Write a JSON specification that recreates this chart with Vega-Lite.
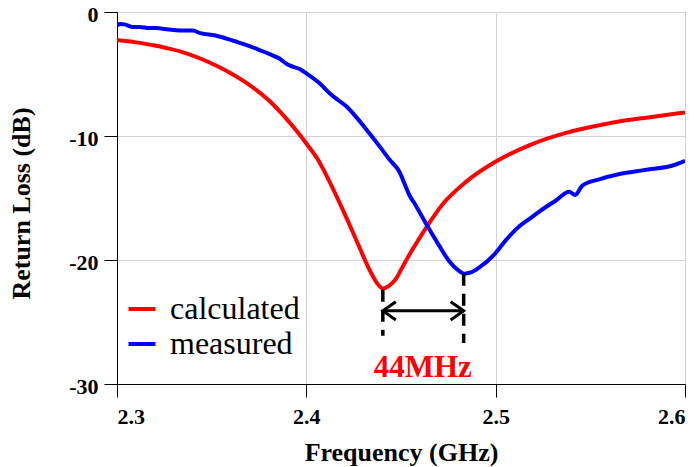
{
  "$schema": "https://vega.github.io/schema/vega-lite/v6.json",
  "autosize": "none",
  "width": 568,
  "height": 372,
  "padding": {"left": 117, "top": 12, "right": 15, "bottom": 83},
  "background": "white",
  "config": {
    "font": "Liberation Serif",
    "view": {"stroke": "#444444", "strokeWidth": 1},
    "axis": {
      "labelFont": "Liberation Serif", "labelFontWeight": "bold", "labelFontSize": 22, "labelColor": "black",
      "titleFont": "Liberation Serif", "titleFontWeight": "bold", "titleFontSize": 26, "titleColor": "black",
      "domainColor": "black", "tickColor": "black", "tickSize": 13, "gridColor": "#D3D3D3", "gridWidth": 1
    },
    "legend": {"labelFont": "Liberation Serif"}
  },
  "datasets": {
    "curves": [
      {"f": 2.300, "rl": -2.26, "series": "calculated"},
      {"f": 2.310, "rl": -2.45, "series": "calculated"},
      {"f": 2.320, "rl": -2.7, "series": "calculated"},
      {"f": 2.326, "rl": -2.9, "series": "calculated"},
      {"f": 2.335, "rl": -3.25, "series": "calculated"},
      {"f": 2.344, "rl": -3.75, "series": "calculated"},
      {"f": 2.352, "rl": -4.3, "series": "calculated"},
      {"f": 2.3596, "rl": -4.9, "series": "calculated"},
      {"f": 2.3701, "rl": -5.9, "series": "calculated"},
      {"f": 2.3807, "rl": -7.2, "series": "calculated"},
      {"f": 2.3894, "rl": -8.6, "series": "calculated"},
      {"f": 2.3965, "rl": -9.9, "series": "calculated"},
      {"f": 2.400, "rl": -10.6, "series": "calculated"},
      {"f": 2.4061, "rl": -11.9, "series": "calculated"},
      {"f": 2.4110, "rl": -13.3, "series": "calculated"},
      {"f": 2.4176, "rl": -15.4, "series": "calculated"},
      {"f": 2.4264, "rl": -18.4, "series": "calculated"},
      {"f": 2.4334, "rl": -20.8, "series": "calculated"},
      {"f": 2.4375, "rl": -21.9, "series": "calculated"},
      {"f": 2.4404, "rl": -22.3, "series": "calculated"},
      {"f": 2.4435, "rl": -22.1, "series": "calculated"},
      {"f": 2.4474, "rl": -21.5, "series": "calculated"},
      {"f": 2.4510, "rl": -20.5, "series": "calculated"},
      {"f": 2.4555, "rl": -19.3, "series": "calculated"},
      {"f": 2.4641, "rl": -17.2, "series": "calculated"},
      {"f": 2.4720, "rl": -15.5, "series": "calculated"},
      {"f": 2.4843, "rl": -13.7, "series": "calculated"},
      {"f": 2.4996, "rl": -12.1, "series": "calculated"},
      {"f": 2.5177, "rl": -10.75, "series": "calculated"},
      {"f": 2.5371, "rl": -9.75, "series": "calculated"},
      {"f": 2.5540, "rl": -9.15, "series": "calculated"},
      {"f": 2.5643, "rl": -8.85, "series": "calculated"},
      {"f": 2.5805, "rl": -8.5, "series": "calculated"},
      {"f": 2.600, "rl": -8.1, "series": "calculated"},

      {"f": 2.300, "rl": -1.1, "series": "measured"},
      {"f": 2.3016, "rl": -0.97, "series": "measured"},
      {"f": 2.304, "rl": -1.0, "series": "measured"},
      {"f": 2.308, "rl": -1.2, "series": "measured"},
      {"f": 2.312, "rl": -1.2, "series": "measured"},
      {"f": 2.317, "rl": -1.3, "series": "measured"},
      {"f": 2.321, "rl": -1.3, "series": "measured"},
      {"f": 2.326, "rl": -1.4, "series": "measured"},
      {"f": 2.335, "rl": -1.5, "series": "measured"},
      {"f": 2.340, "rl": -1.5, "series": "measured"},
      {"f": 2.344, "rl": -1.7, "series": "measured"},
      {"f": 2.352, "rl": -1.9, "series": "measured"},
      {"f": 2.361, "rl": -2.3, "series": "measured"},
      {"f": 2.366, "rl": -2.55, "series": "measured"},
      {"f": 2.370, "rl": -2.75, "series": "measured"},
      {"f": 2.375, "rl": -3.05, "series": "measured"},
      {"f": 2.3807, "rl": -3.4, "series": "measured"},
      {"f": 2.3858, "rl": -3.75, "series": "measured"},
      {"f": 2.3893, "rl": -4.15, "series": "measured"},
      {"f": 2.3918, "rl": -4.35, "series": "measured"},
      {"f": 2.3965, "rl": -4.6, "series": "measured"},
      {"f": 2.4000, "rl": -4.95, "series": "measured"},
      {"f": 2.4070, "rl": -5.75, "series": "measured"},
      {"f": 2.4123, "rl": -6.55, "series": "measured"},
      {"f": 2.4167, "rl": -7.1, "series": "measured"},
      {"f": 2.4211, "rl": -7.6, "series": "measured"},
      {"f": 2.4265, "rl": -8.5, "series": "measured"},
      {"f": 2.4334, "rl": -9.8, "series": "measured"},
      {"f": 2.4390, "rl": -10.9, "series": "measured"},
      {"f": 2.4439, "rl": -11.9, "series": "measured"},
      {"f": 2.4492, "rl": -12.9, "series": "measured"},
      {"f": 2.4520, "rl": -13.9, "series": "measured"},
      {"f": 2.4545, "rl": -14.8, "series": "measured"},
      {"f": 2.4570, "rl": -15.4, "series": "measured"},
      {"f": 2.4641, "rl": -17.3, "series": "measured"},
      {"f": 2.4700, "rl": -18.8, "series": "measured"},
      {"f": 2.4755, "rl": -20.1, "series": "measured"},
      {"f": 2.4800, "rl": -20.8, "series": "measured"},
      {"f": 2.4834, "rl": -21.1, "series": "measured"},
      {"f": 2.4870, "rl": -21.0, "series": "measured"},
      {"f": 2.4914, "rl": -20.6, "series": "measured"},
      {"f": 2.4996, "rl": -19.5, "series": "measured"},
      {"f": 2.5054, "rl": -18.4, "series": "measured"},
      {"f": 2.5124, "rl": -17.3, "series": "measured"},
      {"f": 2.5177, "rl": -16.7, "series": "measured"},
      {"f": 2.5230, "rl": -16.1, "series": "measured"},
      {"f": 2.5318, "rl": -15.2, "series": "measured"},
      {"f": 2.5388, "rl": -14.5, "series": "measured"},
      {"f": 2.5420, "rl": -14.75, "series": "measured"},
      {"f": 2.5458, "rl": -14.0, "series": "measured"},
      {"f": 2.5546, "rl": -13.5, "series": "measured"},
      {"f": 2.5643, "rl": -13.1, "series": "measured"},
      {"f": 2.5720, "rl": -12.9, "series": "measured"},
      {"f": 2.5805, "rl": -12.7, "series": "measured"},
      {"f": 2.5930, "rl": -12.4, "series": "measured"},
      {"f": 2.600, "rl": -12.0, "series": "measured"}
    ],
    "dashes": [
      {"f": 2.4404, "top": -22.4, "bottom": -26.1},
      {"f": 2.4831, "top": -21.1, "bottom": -26.7}
    ],
    "arrow": [
      {"f1": 2.4404, "f2": 2.4831, "rl": -24.1}
    ],
    "heads": [
      {"f": 2.4404, "rl": -24.1, "dir": "left"},
      {"f": 2.4831, "rl": -24.1, "dir": "right"}
    ],
    "label": [
      {"f": 2.4615, "rl": -29.4, "text": "44MHz"}
    ]
  },
  "layer": [
    {
      "data": {"name": "curves"},
      "mark": {"type": "line", "strokeWidth": 4, "clip": true, "interpolate": "monotone"},
      "encoding": {
        "x": {"field": "f", "type": "quantitative", "scale": {"domain": [2.3, 2.6], "nice": false, "zero": false},
          "axis": {"values": [2.3, 2.4, 2.5, 2.6], "format": ".1f", "title": "Frequency (GHz)",
            "labelFont": "Liberation Serif", "labelBaseline": "alphabetic", "labelPadding": 26,
            "titleFont": "Liberation Serif", "titleBaseline": "alphabetic", "titleY": 76}},
        "y": {"field": "rl", "type": "quantitative", "scale": {"domain": [-30, 0], "nice": false},
          "axis": {"values": [0, -10, -20, -30], "labelExpr": "toString(datum.value)", "title": "Return Loss (dB)",
            "labelFont": "Liberation Serif", "labelPadding": 6, "labelOffset": 2,
            "titleFont": "Liberation Serif", "titleBaseline": "alphabetic", "titleX": -88, "titleY": 191}},
        "color": {"field": "series", "type": "nominal",
          "scale": {"domain": ["calculated", "measured"], "range": ["#FF0000", "#0000FF"]},
          "legend": {"orient": "none", "legendX": 9, "legendY": 281, "title": null, "padding": 0,
            "symbolType": "stroke", "symbolSize": 729, "symbolStrokeWidth": 4,
            "labelFont": "Liberation Serif", "labelFontSize": 32, "labelColor": "black",
            "labelOffset": 12, "rowPadding": 3}},
        "order": {"field": "f", "type": "quantitative"}
      }
    },
    {
      "data": {"name": "dashes"},
      "mark": {"type": "rule", "color": "black", "strokeWidth": 3.5, "strokeDash": [12, 8]},
      "encoding": {
        "x": {"field": "f", "type": "quantitative"},
        "y": {"field": "top", "type": "quantitative"},
        "y2": {"field": "bottom"}
      }
    },
    {
      "data": {"name": "arrow"},
      "mark": {"type": "rule", "color": "black", "strokeWidth": 3},
      "encoding": {
        "x": {"field": "f1", "type": "quantitative"},
        "x2": {"field": "f2"},
        "y": {"field": "rl", "type": "quantitative"}
      }
    },
    {
      "data": {"name": "heads"},
      "mark": {"type": "point", "filled": false, "stroke": "black", "strokeWidth": 3, "opacity": 1, "size": 169},
      "encoding": {
        "x": {"field": "f", "type": "quantitative"},
        "y": {"field": "rl", "type": "quantitative"},
        "shape": {"field": "dir", "type": "nominal",
          "scale": {"domain": ["left", "right"], "range": ["M 2 -1.4 L 0 0 L 2 1.4", "M -2 -1.4 L 0 0 L -2 1.4"]},
          "legend": null}
      }
    },
    {
      "data": {"name": "label"},
      "mark": {"type": "text", "font": "Liberation Serif", "fontWeight": "bold", "fontSize": 31, "color": "#FF0000", "align": "center", "baseline": "alphabetic"},
      "encoding": {
        "x": {"field": "f", "type": "quantitative"},
        "y": {"field": "rl", "type": "quantitative"},
        "text": {"field": "text"}
      }
    }
  ]
}
